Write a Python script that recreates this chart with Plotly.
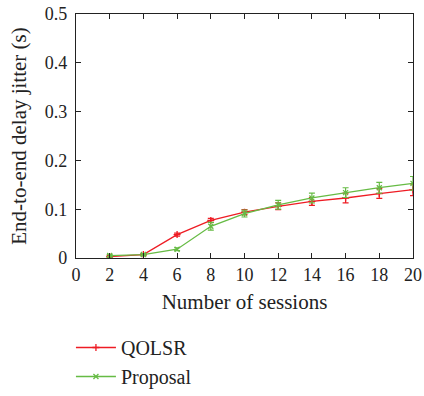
import plotly.graph_objects as go

sessions = [2, 4, 6, 8, 10, 12, 14, 16, 18, 20]
qolsr = [0.003, 0.007, 0.048, 0.077, 0.094, 0.106, 0.116, 0.123, 0.132, 0.140]
qolsr_err = [0.002, 0.002, 0.003, 0.004, 0.005, 0.007, 0.008, 0.010, 0.010, 0.012]
proposal = [0.005, 0.007, 0.018, 0.065, 0.091, 0.109, 0.123, 0.134, 0.144, 0.153]
proposal_err = [0.002, 0.002, 0.003, 0.008, 0.007, 0.009, 0.010, 0.010, 0.011, 0.014]

font_family = "Liberation Serif, DejaVu Serif, serif"
tick_fs = 18
title_fs = 21
legend_fs = 20

fig = go.Figure()
fig.add_trace(go.Scatter(
    x=sessions, y=qolsr, name="QOLSR", mode="lines+markers",
    line=dict(color="#ee1c24", width=1.3),
    marker=dict(symbol="cross-thin", size=5, line=dict(color="#ee1c24", width=1.3)),
    error_y=dict(type="data", array=qolsr_err, color="#ee1c24", thickness=1.2, width=3),
))
fig.add_trace(go.Scatter(
    x=sessions, y=proposal, name="Proposal", mode="lines+markers",
    line=dict(color="#66bb44", width=1.3),
    marker=dict(symbol="x-thin", size=5, line=dict(color="#66bb44", width=1.3)),
    error_y=dict(type="data", array=proposal_err, color="#66bb44", thickness=1.2, width=3),
))

axis_common = dict(
    showgrid=False, zeroline=False, showline=True, linecolor="#222", linewidth=1.2,
    mirror="allticks", ticks="inside", ticklen=5, tickcolor="#222", automargin=False,
    tickfont=dict(family=font_family, size=tick_fs, color="#222"),
)
fig.update_xaxes(range=[0, 20], dtick=2, tick0=0,
                 title=dict(text="Number of sessions", font=dict(family=font_family, size=title_fs, color="#222"), standoff=10),
                 **axis_common)
fig.update_yaxes(range=[0, 0.5], dtick=0.1, tick0=0, tickformat=".1~f", ticklabelstandoff=4,
                 title=dict(text="End-to-end delay jitter (s)", font=dict(family=font_family, size=title_fs, color="#222"), standoff=12),
                 **axis_common)

fig.update_layout(
    width=424, height=396,
    margin=dict(l=76, r=11, t=14, b=138),
    paper_bgcolor="white", plot_bgcolor="white",
    showlegend=True,
    legend=dict(x=-0.015, y=0.0, xanchor="left", yanchor="bottom", orientation="v",
                yref="container",
                font=dict(family=font_family, size=legend_fs, color="#222"),
                itemwidth=40, tracegroupgap=0, bgcolor="rgba(0,0,0,0)"),
)

fig.write_html("out.html",
               config={"displayModeBar": False},
               post_script="document.body.style.margin='0';document.body.style.overflow='hidden';")
